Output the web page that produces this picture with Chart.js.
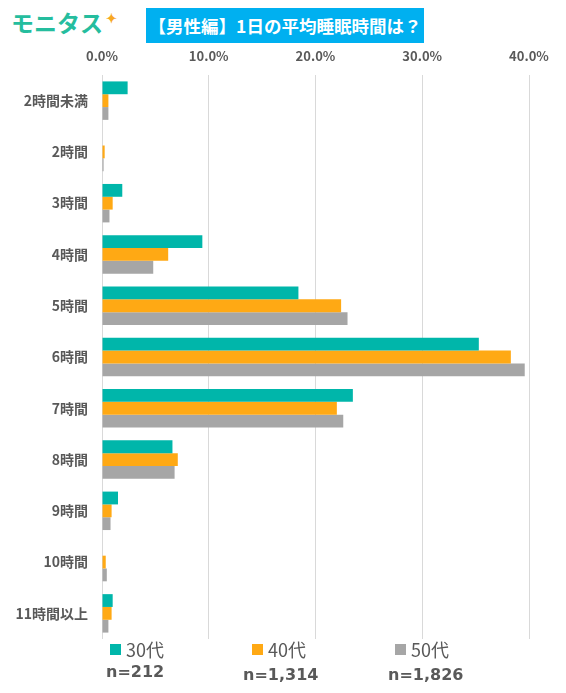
<!DOCTYPE html>
<html lang="ja">
<head>
<meta charset="utf-8">
<script src="https://cdn.jsdelivr.net/npm/chart.js@4"></script>
<style>
  html, body { margin: 0; padding: 0; background: #fff; }
  body { width: 566px; height: 693px; position: relative; overflow: hidden; font-family: "Noto Sans CJK JP", sans-serif; }
  #wrap { position: absolute; left: 0; top: 0; width: 566px; height: 693px; }
  .logo { position: absolute; left: 11px; top: 7px; font-size: 23px; line-height: 30px; font-weight: 700; color: #25bd9e; }
  .logo .star { color: #f7a823; font-size: 13px; position: absolute; top: -4px; right: -14px; }
  .title { position: absolute; left: 146px; top: 8px; width: 278px; height: 35px; line-height: 35px; text-align: center; background: #00b0f0; color: #fff; font-size: 17.5px; font-weight: 700; }
  .legend-item { position: absolute; top: 636px; font-size: 18px; color: #595959; display: flex; align-items: center; }
  .legend-item .box { width: 11px; height: 11px; margin-right: 5px; }
  .nlabel { position: absolute; font-size: 16px; font-weight: 700; color: #595959; font-family: "DejaVu Sans", sans-serif; }
</style>
</head>
<body>
<div class="logo">モニタス<span class="star">✦</span></div>
<div class="title">【男性編】1日の平均睡眠時間は？</div>
<div id="wrap"><canvas id="chart" width="566" height="693"></canvas></div>
<div id="legend"></div>
<script>
const categories = ["2時間未満", "2時間", "3時間", "4時間", "5時間", "6時間", "7時間", "8時間", "9時間", "10時間", "11時間以上"];
const seriesNames = ["30代", "40代", "50代"];
const sampleSizes = ["n=212", "n=1,314", "n=1,826"];
const values30 = [2.4, 0, 1.9, 9.4, 18.4, 35.3, 23.5, 6.6, 1.5, 0, 1.0];
const values40 = [0.6, 0.25, 1.0, 6.2, 22.4, 38.3, 22.0, 7.1, 0.9, 0.35, 0.9];
const values50 = [0.6, 0.15, 0.7, 4.8, 23.0, 39.6, 22.6, 6.8, 0.8, 0.45, 0.6];
const xTicks = [0, 10, 20, 30, 40];

const colors = ["#00b6aa", "#ffa914", "#a6a6a6"];
const legendX = [110, 252, 395];
const nX = [106, 243, 388];
const nY = [662, 665, 665];

const labelFont = { family: '"Noto Sans CJK JP", sans-serif', size: 14, weight: "bold" };

new Chart(document.getElementById("chart"), {
  type: "bar",
  data: {
    labels: categories,
    datasets: [values30, values40, values50].map((data, i) => ({
      label: seriesNames[i],
      data,
      backgroundColor: colors[i],
      borderWidth: 0,
      categoryPercentage: 0.75,
      barPercentage: 1.0,
    })),
  },
  options: {
    indexAxis: "y",
    responsive: false,
    animation: false,
    layout: { padding: { top: 40, right: 37, bottom: 54, left: 0 } },
    plugins: { legend: { display: false }, tooltip: { enabled: false } },
    scales: {
      x: {
        position: "top",
        min: 0,
        max: 40,
        afterBuildTicks: (scale) => { scale.ticks = xTicks.map((value) => ({ value })); },
        afterFit: (scale) => { scale.height = 35; },
        grid: { color: "#d9d9d9", lineWidth: 1, drawTicks: false },
        border: { display: false },
        ticks: { padding: 11, color: "#595959", font: { ...labelFont, size: 13 }, callback: (v) => v.toFixed(1) + "%" },
      },
      y: {
        afterFit: (scale) => { scale.width = 102; },
        grid: { display: false, drawTicks: false },
        border: { display: false },
        ticks: { padding: 14, color: "#595959", font: labelFont },
      },
    },
  },
});

const legend = document.getElementById("legend");
seriesNames.forEach((name, i) => {
  legend.insertAdjacentHTML("beforeend",
    `<div class="legend-item" style="left:${legendX[i]}px"><span class="box" style="background:${colors[i]}"></span>${name}</div>` +
    `<div class="nlabel" style="left:${nX[i]}px;top:${nY[i]}px">${sampleSizes[i]}</div>`);
});
</script>
</body>
</html>
